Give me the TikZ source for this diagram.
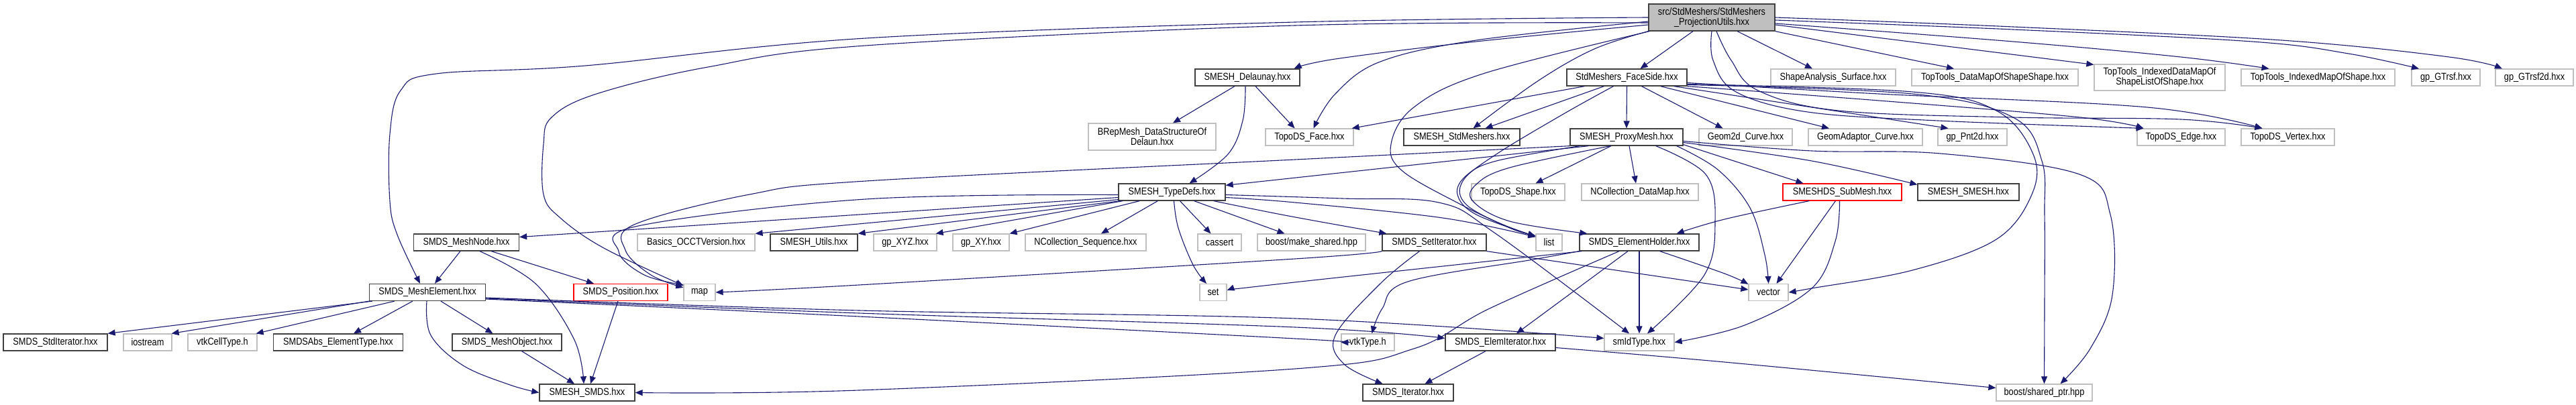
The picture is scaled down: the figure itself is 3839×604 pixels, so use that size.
\documentclass[tikz,border=0pt]{standalone}
\usepackage{fontspec}
\setmainfont{Liberation Sans}[FakeStretch=0.85]
\usetikzlibrary{arrows.meta,calc}
\definecolor{edgec}{HTML}{191970}
\definecolor{darkb}{HTML}{404040}
\definecolor{lightg}{HTML}{BFBFBF}
\definecolor{rootfill}{HTML}{BFBFBF}
\definecolor{redb}{HTML}{FF0000}
\newcommand\dxfont{\fontsize{15bp}{15bp}\selectfont}
\newcommand\N[7]{\node[#6, minimum width=#4bp, minimum height=#5bp] (#1) at (#2,#3) {#7};}
\tikzset{
  nbase/.style={rectangle, draw, inner sep=0pt, line width=1.2bp, font=\dxfont, align=center, text=black, fill=white},
  nb/.style={nbase, draw=darkb, line width=1.3bp},
  ng/.style={nbase, draw=lightg},
  nr/.style={nbase, draw=redb},
  nroot/.style={nbase, draw=darkb, fill=rootfill, line width=1.3bp},
  edge/.style={draw=edgec, line width=1.1bp, -{Triangle[length=11bp,width=9bp]}, fill=none},
}
\begin{document}
\begin{tikzpicture}[x=1bp,y=-1bp]
\useasboundingbox (0,0) rectangle (3839,604);
% row 1
\N{root}{2551}{26}{188}{40}{nroot}{src/StdMeshers/StdMeshers\\\_ProjectionUtils.hxx}
% row 2
\N{delaunay}{1859}{115.5}{156}{25}{nb}{SMESH\_Delaunay.hxx}
\N{faceside}{2424.5}{115.5}{179}{25}{nb}{StdMeshers\_FaceSide.hxx}
\N{shapeanalysis}{2732}{115.5}{186}{25}{ng}{ShapeAnalysis\_Surface.hxx}
\N{ttdatamap}{2973}{115.5}{248}{25}{ng}{TopTools\_DataMapOfShapeShape.hxx}
\N{ttidxdatamap}{3218.5}{115.5}{195}{39}{ng}{TopTools\_IndexedDataMapOf\\ShapeListOfShape.hxx}
\N{ttidxmap}{3454.5}{115.5}{229}{25}{ng}{TopTools\_IndexedMapOfShape.hxx}
\N{gtrsf}{3645}{115.5}{102}{25}{ng}{gp\_GTrsf.hxx}
\N{gtrsftwod}{3777}{115.5}{116}{25}{ng}{gp\_GTrsf2d.hxx}
% row 3
\N{brep}{1717}{204}{190}{40}{ng}{BRepMesh\_DataStructureOf\\Delaun.hxx}
\N{topoface}{1951.5}{204.5}{131}{25}{ng}{TopoDS\_Face.hxx}
\N{smeshstd}{2178.5}{204.5}{173}{25}{nb}{SMESH\_StdMeshers.hxx}
\N{proxy}{2424}{204.5}{168}{25}{nb}{SMESH\_ProxyMesh.hxx}
\N{geomtwod}{2601.5}{204.5}{139}{25}{ng}{Geom2d\_Curve.hxx}
\N{geomadaptor}{2780}{204.5}{170}{25}{ng}{GeomAdaptor\_Curve.hxx}
\N{pnttwod}{2939.5}{204.5}{103}{25}{ng}{gp\_Pnt2d.hxx}
\N{topoedge}{3250.5}{204.5}{131}{25}{ng}{TopoDS\_Edge.hxx}
\N{topovertex}{3409.5}{204.5}{139}{25}{ng}{TopoDS\_Vertex.hxx}
% row 4
\N{typedefs}{1746.5}{286.5}{159}{25}{nb}{SMESH\_TypeDefs.hxx}
\N{toposhape}{2262.5}{286.5}{139}{25}{ng}{TopoDS\_Shape.hxx}
\N{ncdatamap}{2444}{286.5}{174}{25}{ng}{NCollection\_DataMap.hxx}
\N{submesh}{2745.5}{286.5}{177}{25}{nr}{SMESHDS\_SubMesh.hxx}
\N{smeshsmesh}{2933.5}{286.5}{151}{25}{nb}{SMESH\_SMESH.hxx}
% row 5
\N{meshnode}{695}{361.5}{157}{25}{nb}{SMDS\_MeshNode.hxx}
\N{basics}{1037.5}{361.5}{175}{25}{ng}{Basics\_OCCTVersion.hxx}
\N{utils}{1213}{361.5}{130}{25}{nb}{SMESH\_Utils.hxx}
\N{gpxyz}{1349}{361.5}{94}{25}{ng}{gp\_XYZ.hxx}
\N{gpxy}{1462}{361.5}{84}{25}{ng}{gp\_XY.hxx}
\N{ncseq}{1618}{361.5}{180}{25}{ng}{NCollection\_Sequence.hxx}
\N{cassert}{1817.5}{361.5}{65}{25}{ng}{cassert}
\N{makeshared}{1954.5}{361.5}{161}{25}{ng}{boost/make\_shared.hpp}
\N{setiter}{2137.5}{361.5}{155}{25}{nb}{SMDS\_SetIterator.hxx}
\N{list}{2308.5}{361.5}{39}{25}{ng}{list}
\N{elemholder}{2443}{361.5}{178}{25}{nb}{SMDS\_ElementHolder.hxx}
% row 6
\N{meshelement}{637}{436}{173}{25}{nb}{SMDS\_MeshElement.hxx}
\N{position}{925}{436}{140}{25}{nr}{SMDS\_Position.hxx}
\N{map}{1042.5}{436}{47}{25}{ng}{map}
\N{set}{1808}{436}{40}{25}{ng}{set}
\N{vector}{2635.5}{436}{59}{25}{ng}{vector}
% row 7
\N{stditer}{82.5}{510.5}{155}{25}{nb}{SMDS\_StdIterator.hxx}
\N{iostream}{220}{510.5}{72}{25}{ng}{iostream}
\N{vtkcell}{331.5}{510.5}{103}{25}{ng}{vtkCellType.h}
\N{absel}{504}{510.5}{193}{25}{nb}{SMDSAbs\_ElementType.hxx}
\N{meshobj}{755.5}{510.5}{163}{25}{nb}{SMDS\_MeshObject.hxx}
\N{vtktype}{2038.5}{510.5}{79}{25}{ng}{vtkType.h}
\N{elemiter}{2236}{510.5}{164}{25}{nb}{SMDS\_ElemIterator.hxx}
\N{smid}{2443}{510.5}{104}{25}{ng}{smIdType.hxx}
% row 8
\N{smds}{875}{585.5}{142}{25}{nb}{SMESH\_SMDS.hxx}
\N{iter}{2098.5}{585.5}{135}{25}{nb}{SMDS\_Iterator.hxx}
\N{sharedptr}{3046.5}{585.5}{143}{25}{ng}{boost/shared\_ptr.hpp}

% ---------------- edges from root
\draw[edge] plot[smooth,tension=0.6] coordinates {(root.west) (1930,33) (1290,57) (872,98) (650,110) (597,135) (581,200) (581,300) (592,350) ($(meshelement.north)+(-11,0)$)};
\draw[edge] plot[smooth,tension=0.6] coordinates {($(root.west)+(0,8)$) (1930,38) (1290,68) (1055,100) (889,140) (822,175) (810,215) (810,290) (835,325) (900,370) ($(map.north west)+(0,3)$)};
\draw[edge] plot[smooth,tension=0.6] coordinates {($(root.west)+(0,11)$) (2200,62) (1990,88) ($(delaunay.north east)+(-9,0)$)};
\draw[edge] plot[smooth,tension=0.6] coordinates {($(root.west)+(0,6)$) (2200,60) (2057,92) (1990,140) ($(topoface.north)+(6,0)$)};
\draw[edge] plot[smooth,tension=0.6] coordinates {(root.south west) (2376,73) (2293,120) ($(smeshstd.north)+(17,0)$)};
\draw[edge] plot[smooth,tension=0.6] coordinates {($(root.south west)+(2,0)$) (2210,110) (2107,160) (2073,215) (2090,255) (2177,305) (2240,335) ($(list.north west)+(0,4)$)};
\draw[edge] ($(root.south)+(-28,0)$) -- ($(faceside.north)+(20,0)$);
\draw[edge] ($(root.south)+(38,0)$) -- ($(shapeanalysis.north)+(-31,0)$);
\draw[edge] (root.south east) -- ($(ttdatamap.north)+(-61,0)$);
\draw[edge] ($(root.east)+(0,11)$) -- ($(ttidxdatamap.north west)+(0,1)$);
\draw[edge] plot[smooth,tension=0.6] coordinates {($(root.east)+(0,9)$) (3000,62) (3250,85) ($(ttidxmap.north)+(-73,0)$)};
\draw[edge] plot[smooth,tension=0.6] coordinates {($(root.east)+(0,4)$) (3000,44) (3356,62) (3500,80) ($(gtrsf.north)+(-40,0)$)};
\draw[edge] plot[smooth,tension=0.6] coordinates {(root.east) (3000,40) (3400,60) (3650,85) ($(gtrsftwod.north)+(-48,0)$)};
\draw[edge] plot[smooth,tension=0.6] coordinates {($(root.south)+(0,0)$) (2553,90) (2587,137) (2694,167) (2888,180) ($(topoedge.north)+(-56,0)$)};
\draw[edge] plot[smooth,tension=0.6] coordinates {($(root.south)+(7,0)$) (2580,90) (2620,135) (2740,165) (3000,175) (3250,178) ($(topovertex.north)+(-38,0)$)};

% ---------------- FaceSide
\draw[edge] ($(faceside.south west)+(27,0)$) -- ($(topoface.north east)+(-3,0)$);
\draw[edge] ($(faceside.south)+(-34,0)$) -- ($(smeshstd.north)+(35,0)$);
\draw[edge] (faceside.south) -- (proxy.north);
\draw[edge] ($(faceside.south)+(22,0)$) -- ($(geomtwod.north)+(-34,0)$);
\draw[edge] plot[smooth,tension=0.6] coordinates {($(faceside.south)+(-20,0)$) (2330,170) (2230,230) (2180,270) (2185,305) (2250,340) ($(list.north west)+(0,3)$)};
\draw[edge] ($(faceside.south east)+(-40,0)$) -- ($(geomadaptor.north)+(-54,0)$);
\draw[edge] plot[smooth,tension=0.6] coordinates {($(faceside.south east)+(-20,0)$) (2700,160) ($(pnttwod.north)+(-36,0)$)};
\draw[edge] plot[smooth,tension=0.6] coordinates {(faceside.south east) (2800,150) (3100,175) ($(topoedge.north)+(-56,0)$)};
\draw[edge] plot[smooth,tension=0.6] coordinates {($(faceside.east)+(0,8)$) (2800,140) (3200,160) ($(topovertex.north)+(-38,0)$)};
\draw[edge] plot[smooth,tension=0.6] coordinates {($(faceside.east)+(0,10)$) (2850,137) (2975,165) (3030,230) (3028,290) (2975,357) (2850,403) (2700,430) (vector.east)};
\draw[edge] plot[smooth,tension=0.6] coordinates {($(faceside.east)+(0,11)$) (2850,140) (3000,175) (3043,240) (3047,320) (3047,450) (sharedptr.north)};

% ---------------- ProxyMesh
\draw[edge] ($(proxy.south)+(-23,0)$) -- ($(toposhape.north)+(26,0)$);
\draw[edge] ($(proxy.south)+(4,0)$) -- ($(ncdatamap.north)+(-6,0)$);
\draw[edge] ($(proxy.south west)+(28,0)$) -- ($(typedefs.north east)+(0,3)$);
\draw[edge] plot[smooth,tension=0.6] coordinates {(proxy.south west) (1930,238) (1290,270) (1117,290) (945,335) (932,373) (970,410) ($(map.north west)+(0,6)$)};
\draw[edge] plot[smooth,tension=0.6] coordinates {($(proxy.south west)+(15,0)$) (2230,240) (2185,262) (2172,290) (2200,320) ($(list.north west)+(0,4)$)};
\draw[edge] plot[smooth,tension=0.6] coordinates {($(proxy.south)+(-24,0)$) (2250,250) (2200,275) (2195,300) (2250,330) ($(elemholder.north west)+(12,0)$)};
\draw[edge] ($(proxy.south east)+(0,-2)$) -- ($(submesh.north west)+(31,0)$);
\draw[edge] plot[smooth,tension=0.6] coordinates {($(proxy.east)+(0,8)$) (2700,240) ($(smeshsmesh.north west)+(0,2)$)};
\draw[edge] plot[smooth,tension=0.6] coordinates {($(proxy.south east)+(-10,0)$) (2560,253) (2608,310) (2630,380) (vector.north)};
\draw[edge] plot[smooth,tension=0.6] coordinates {($(proxy.east)+(0,6)$) (2700,225) (2892,229) (3099,260) (3145,320) (3148,440) (3115,520) ($(sharedptr.north)+(24,0)$)};
\draw[edge] plot[smooth,tension=0.6] coordinates {($(proxy.south east)+(-41,0)$) (2542,260) (2556,330) (2540,410) ($(smid.north)+(12,0)$)};

% ---------------- SubMesh
\draw[edge] plot[smooth,tension=0.6] coordinates {($(submesh.south west)+(40,0)$) (2570,327) ($(elemholder.north east)+(-34,0)$)};
\draw[edge] ($(submesh.south)+(-10,0)$) -- ($(vector.north)+(12,0)$);
\draw[edge] plot[smooth,tension=0.6] coordinates {($(submesh.south)+(-4,0)$) (2735,360) (2700,430) (2600,485) (smid.east)};

% ---------------- ElementHolder
\draw[edge] plot[smooth,tension=0.6] coordinates {($(elemholder.south east)+(-59,0)$) (2570,408) ($(vector.north west)+(0,1)$)};
\draw[edge] (elemholder.south) -- (smid.north);
\draw[edge] ($(elemholder.south)+(-17,0)$) -- ($(elemiter.north)+(24,0)$);
\draw[edge] plot[smooth,tension=0.6] coordinates {($(elemholder.south)+(-30,0)$) (2220,460) (2107,520) (1930,550) (1280,582) (smds.east)};
\draw[edge] plot[smooth,tension=0.6] coordinates {(elemholder.south west) (2285,387) (2098,420) (2060,460) ($(vtktype.north)+(6,0)$)};
\draw[edge] plot[smooth,tension=0.6] coordinates {($(elemholder.south west)+(4,0)$) (1920,422) ($(set.east)+(0,-3)$)};

% ---------------- SetIterator
\draw[edge] plot[smooth,tension=0.6] coordinates {($(setiter.south)+(-22,0)$) (2057,423) (1990,500) (2003,543) ($(iter.north)+(-38,0)$)};
\draw[edge] plot[smooth,tension=0.6] coordinates {(setiter.south west) (1930,386) (1280,425) (map.east)};
\draw[edge] (setiter.south east) -- ($(vector.west)+(0,-4)$);

% ---------------- TypeDefs
\draw[edge] ($(typedefs.west)+(0,8)$) -- ($(meshnode.east)+(0,-8)$);
\draw[edge] ($(typedefs.south west)+(0,-2)$) -- (basics.north east);
\draw[edge] ($(typedefs.south west)+(3,0)$) -- (utils.north east);
\draw[edge] ($(typedefs.south west)+(7,0)$) -- ($(gpxyz.north east)+(-2,0)$);
\draw[edge] ($(typedefs.south west)+(32,0)$) -- (gpxy.north east);
\draw[edge] ($(typedefs.south west)+(59,0)$) -- ($(ncseq.north)+(23,0)$);
\draw[edge] plot[smooth,tension=0.6] coordinates {($(typedefs.south)+(3,0)$) (1756,340) (1778,395) ($(set.north)+(-10,0)$)};
\draw[edge] ($(typedefs.south)+(12,0)$) -- ($(cassert.north)+(-13,0)$);
\draw[edge] ($(typedefs.south)+(33,0)$) -- ($(makeshared.north)+(-40,0)$);
\draw[edge] plot[smooth,tension=0.6] coordinates {($(typedefs.south east)+(-18,0)$) (1920,322) ($(setiter.north west)+(7,0)$)};
\draw[edge] plot[smooth,tension=0.6] coordinates {($(typedefs.east)+(0,8)$) (1930,302) (2150,325) ($(list.north west)+(0,5)$)};
\draw[edge] plot[smooth,tension=0.6] coordinates {($(typedefs.east)+(0,4)$) (2000,296) (2144,302) (2227,347) ($(smid.north)+(-15,0)$)};
\draw[edge] plot[smooth,tension=0.6] coordinates {($(typedefs.west)+(0,4)$) (1290,297) (951,337) (922,375) (960,410) ($(map.north west)+(0,2)$)};

% ---------------- Delaunay
\draw[edge] ($(delaunay.south)+(-19,0)$) -- ($(brep.north)+(31,0)$);
\draw[edge] plot[smooth,tension=0.6] coordinates {($(delaunay.south)+(-3,0)$) (1852,180) (1830,230) ($(typedefs.north)+(26,0)$)};
\draw[edge] ($(delaunay.south)+(12,0)$) -- ($(topoface.north)+(-22,0)$);

% ---------------- MeshNode
\draw[edge] ($(meshnode.south)+(-9,0)$) -- ($(meshelement.north)+(11,0)$);
\draw[edge] plot[smooth,tension=0.6] coordinates {($(meshnode.south)+(20,0)$) (798,423) (856,507) ($(smds.north)+(-5,0)$)};
\draw[edge] ($(meshnode.south east)+(-42,0)$) -- ($(position.north)+(-40,0)$);
\draw[edge] ($(position.south)+(-4,0)$) -- ($(smds.north)+(5,0)$);

% ---------------- MeshElement
\draw[edge] ($(meshelement.south west)+(5,0)$) -- (stditer.north east);
\draw[edge] (meshelement.south west) -- ($(iostream.north east)+(-1,0)$);
\draw[edge] ($(meshelement.south west)+(38,0)$) -- ($(vtkcell.north east)+(-2,0)$);
\draw[edge] ($(meshelement.south west)+(65,0)$) -- ($(absel.north)+(23,0)$);
\draw[edge] ($(meshelement.south)+(20,0)$) -- ($(meshobj.north)+(-21,0)$);
\draw[edge] plot[smooth,tension=0.6] coordinates {($(meshelement.south)+(-1,0)$) (642,500) (690,545) (760,574) (smds.west)};
\draw[edge] plot[smooth,tension=0.6] coordinates {($(meshelement.east)+(0,8)$) (1280,463) (1930,475) ($(smid.west)+(0,-6)$)};
\draw[edge] plot[smooth,tension=0.6] coordinates {($(meshelement.east)+(0,9)$) (1280,467) (1930,488) ($(elemiter.west)+(0,-6)$)};
\draw[edge] plot[smooth,tension=0.6] coordinates {($(meshelement.east)+(0,10)$) (1280,472) (1930,505) (vtktype.west)};

% ---------------- others
\draw[edge] ($(meshobj.south)+(22,0)$) -- ($(smds.north)+(-19,0)$);
\draw[edge] ($(elemiter.south)+(-22,0)$) -- ($(iter.north)+(25,0)$);
\draw[edge] plot[smooth,tension=0.6] coordinates {($(elemiter.east)+(0,8)$) (2570,540) ($(sharedptr.west)+(0,-7)$)};
\end{tikzpicture}
\end{document}
